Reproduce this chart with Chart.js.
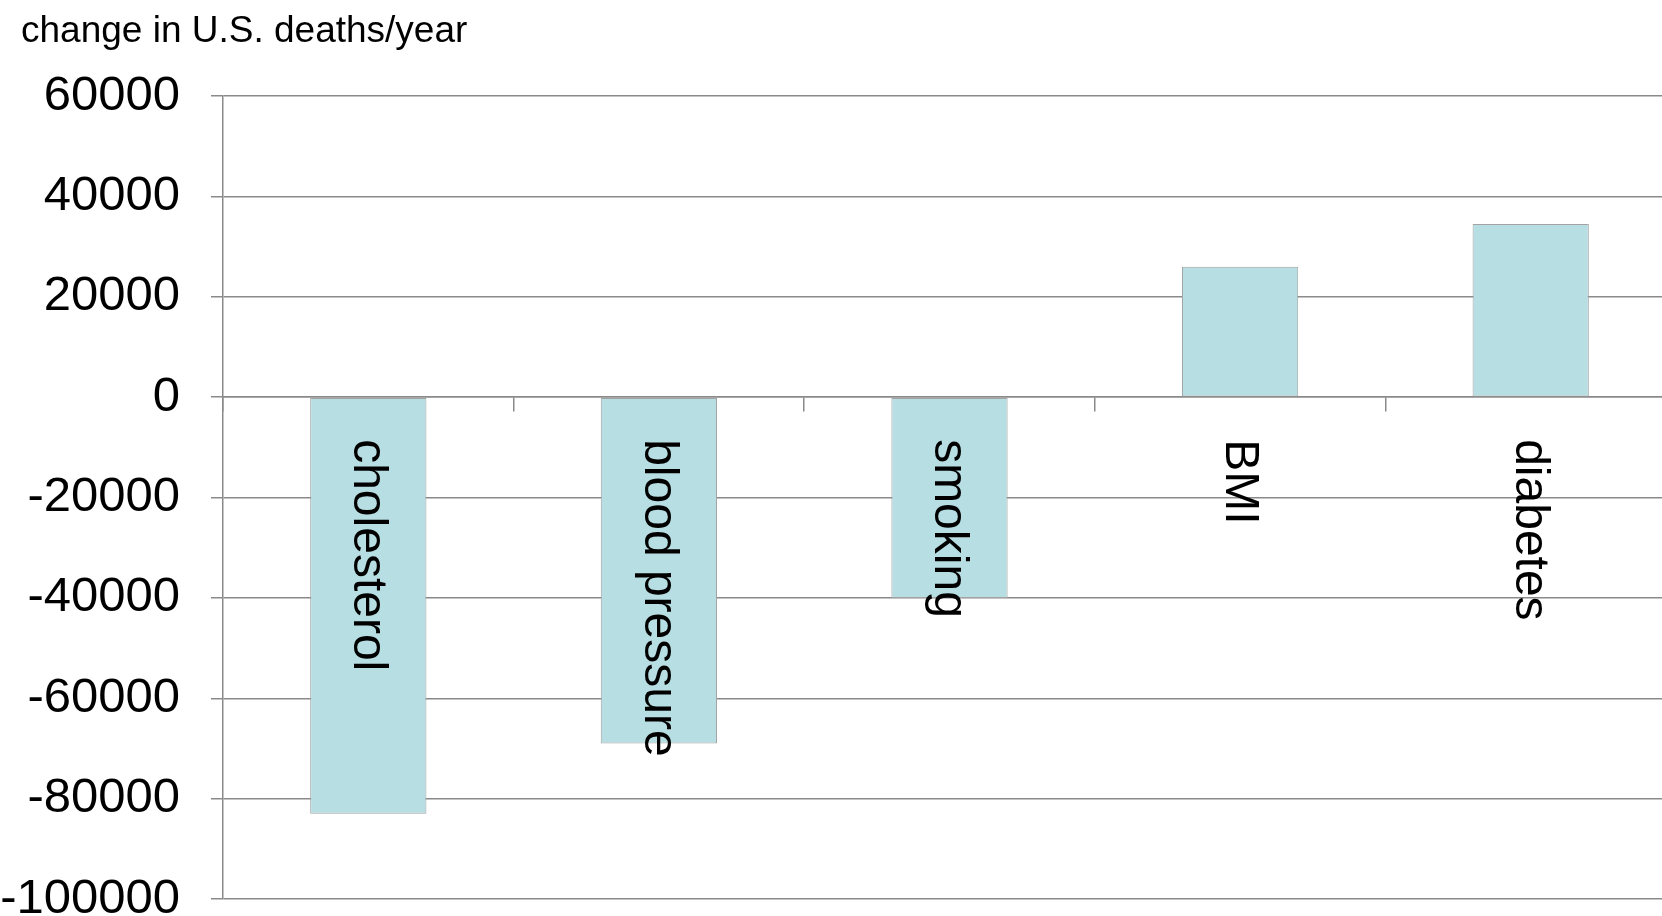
<!DOCTYPE html>
<html>
<head>
<meta charset="utf-8">
<script src="https://cdn.jsdelivr.net/npm/chart.js"></script>
<style>
  html, body { margin: 0; padding: 0; background: #fff; overflow: hidden; }
  canvas { display: block; }
</style>
</head>
<body>
<canvas id="chart" width="1676" height="916"></canvas>
<script>
// data
const categories = ['cholesterol', 'blood pressure', 'smoking', 'BMI', 'diabetes'];
const deathChange = [-83000, -69000, -40000, 26000, 34500];
const yTicks = [60000, 40000, 20000, 0, -20000, -40000, -60000, -80000, -100000];
const yTitle = 'change in U.S. deaths/year';

const FONT = "'Liberation Sans', Arial, sans-serif";
const GRID = '#8a8a8a';

// axis title top-left + category names rotated inside the bars
const labelsPlugin = {
  id: 'labels',
  afterDraw(chart) {
    const ctx = chart.ctx;
    const x = chart.scales.x, y = chart.scales.y;
    ctx.save();
    ctx.fillStyle = '#000';
    ctx.font = '37px ' + FONT;
    ctx.textAlign = 'left';
    ctx.textBaseline = 'alphabetic';
    ctx.fillText(yTitle, 21, 42);

    ctx.font = '48px ' + FONT;
    const y0 = y.getPixelForValue(0);
    categories.forEach((name, i) => {
      ctx.save();
      ctx.translate(x.getPixelForValue(i) - 1, y0 + 42);
      ctx.rotate(Math.PI / 2);
      ctx.textBaseline = 'middle';
      ctx.fillText(name, 0, 0);
      ctx.restore();
    });
    ctx.restore();
  }
};

new Chart(document.getElementById('chart').getContext('2d'), {
  type: 'bar',
  data: {
    labels: categories,
    datasets: [{
      data: deathChange,
      backgroundColor: '#b7dee2',
      borderColor: '#a3a3a3',
      borderWidth: 1,
      borderSkipped: false,
      barPercentage: 0.4,
      categoryPercentage: 1.0
    }]
  },
  options: {
    responsive: false,
    animation: false,
    layout: { padding: { top: 96, bottom: 17, left: 0, right: 0 } },
    plugins: {
      legend: { display: false },
      tooltip: { enabled: false }
    },
    scales: {
      x: {
        position: { y: 0 },
        afterFit(scale) { scale.height = 0; scale.paddingLeft = 0; scale.paddingRight = 0; },
        grid: {
          offset: true,
          drawOnChartArea: false,
          drawTicks: true,
          tickLength: 14,
          color: GRID,
          lineWidth: 1.5
        },
        border: { color: GRID, width: 1.5 },
        ticks: { display: false }
      },
      y: {
        min: -100000,
        max: 60000,
        afterBuildTicks(scale) {
          scale.ticks = yTicks.map(v => ({ value: v }));
        },
        afterFit(scale) { scale.width = 223; scale.paddingTop = 0; scale.paddingBottom = 0; },
        grid: { color: GRID, lineWidth: 1.5, tickLength: 12 },
        border: { color: GRID, width: 1.5 },
        ticks: {
          padding: 31,
          color: '#000',
          font: { family: FONT, size: 49 },
          callback: v => String(v)
        }
      }
    }
  },
  plugins: [labelsPlugin]
});
</script>
</body>
</html>
